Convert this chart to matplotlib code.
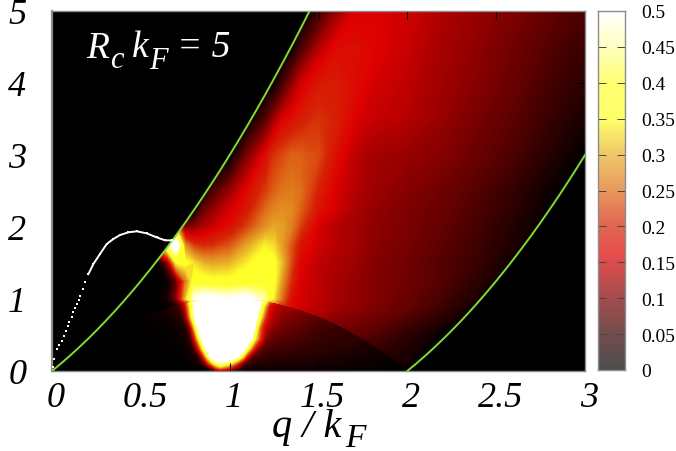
import numpy as np
import matplotlib
matplotlib.use("Agg")
import matplotlib.pyplot as plt
from matplotlib.colors import LinearSegmentedColormap
from matplotlib.patches import Polygon
from matplotlib.transforms import ScaledTranslation

# Boundaries
upper_q = [0, .05, .1, .15, .2, .25, .3, .35, .4, .45, .5, .55, .6, .65, .7, .75, .8, .85, .9, .95, 1, 1.05, 1.1, 1.15, 1.2, 1.25, 1.3, 1.35, 1.4, 1.45]
upper_w = [0, .1025, .21, .3225, .44, .5625, .69, .8225, .96, 1.1025, 1.25, 1.4025, 1.56, 1.7225, 1.89, 2.0625, 2.24, 2.4225, 2.61, 2.8025, 3, 3.2025, 3.41, 3.6225, 3.84, 4.0625, 4.29, 4.5225, 4.76, 5.0025]
lower_q = [2, 2.05, 2.1, 2.15, 2.2, 2.25, 2.3, 2.35, 2.4, 2.45, 2.5, 2.55, 2.6, 2.65, 2.7, 2.75, 2.8, 2.85, 2.9, 2.95, 3]
lower_w = [0, .1025, .21, .3225, .44, .5625, .69, .8225, .96, 1.1025, 1.25, 1.4025, 1.56, 1.7225, 1.89, 2.0625, 2.24, 2.4225, 2.61, 2.8025, 3]
dome_q = [0, .05, .1, .15, .2, .25, .3, .35, .4, .45, .5, .55, .6, .65, .7, .75, .8, .85, .9, .95, 1, 1.05, 1.1, 1.15, 1.2, 1.25, 1.3, 1.35, 1.4, 1.45, 1.5, 1.55, 1.6, 1.65, 1.7, 1.75, 1.8, 1.85, 1.9, 1.95, 2]
dome_w = [0, .0975, .19, .2775, .36, .4375, .51, .5775, .64, .6975, .75, .7975, .84, .8775, .91, .9375, .96, .9775, .99, .9975, 1, .9975, .99, .9775, .96, .9375, .91, .8775, .84, .7975, .75, .6975, .64, .5775, .51, .4375, .36, .2775, .19, .0975, 0]

# White pole curve
pole_q = [.007, .013, .026, .04, .054, .067, .079, .09, .098, .11, .12, .13, .139, .15, .158, .173, .186, .205, .233, .27, .308, .345, .383, .43, .477, .533, .589, .636, .674]
pole_w = [.05, .167, .306, .36, .42, .49, .56, .62, .676, .75, .815, .87, .93, .99, 1.046, 1.139, 1.23, 1.347, 1.486, 1.625, 1.764, 1.833, 1.889, 1.926, 1.94, 1.912, 1.856, 1.815, 1.815]

# Continuum above the dome
cont_q = [.5, .6, .65, .7, .75, .8, .85, .9, 1.0, 1.1, 1.2, 1.25, 1.3, 1.35, 1.4, 1.5, 1.6, 1.7, 1.8, 2.0, 2.2, 2.4, 2.6, 2.8, 3.0]
cont_w = [0, .5, .85, 1, 1.25, 1.5, 1.75, 2, 2.25, 2.5, 3, 3.5, 4, 4.5, 5]
cont_s = [
 [0,0,0,0,0,0,0,0,0,0,0,0,0,0,.02,.02,.02,.02,.03,.01,0,0,0,0,0],
 [0,0,0,0,0,0,0,0,0,0,0,0,0,.1,.1,.09,.085,.08,.07,.04,.004,0,0,0,0],
 [0,0,0,0,0,0,0,0,0,0,0,.2,.19,.165,.15,.135,.12,.11,.1,.08,.05,.005,0,0,0],
 [0,.005,.02,.1,.3,.5,.52,.52,.5,.52,.45,.33,.24,.17,.155,.14,.125,.115,.105,.085,.06,.02,0,0,0],
 [0,0,.01,.08,.25,.37,.37,.36,.36,.37,.38,.36,.27,.2,.155,.14,.125,.115,.105,.09,.07,.04,0,0,0],
 [0,0,.1,.35,.36,.33,.3,.29,.3,.34,.37,.36,.3,.22,.165,.14,.13,.12,.105,.09,.07,.05,.01,0,0],
 [0,.3,.45,.55,.27,.21,.2,.205,.23,.29,.34,.325,.28,.23,.18,.15,.135,.125,.11,.095,.075,.055,.025,0,0],
 [0,.1,.2,.3,.09,.11,.13,.145,.175,.22,.275,.295,.285,.26,.215,.155,.135,.125,.11,.1,.08,.06,.03,0,0],
 [0,0,0,0,0,0,.08,.11,.15,.185,.245,.265,.275,.27,.24,.18,.15,.13,.115,.1,.085,.065,.04,.005,0],
 [0,0,0,0,0,0,0,.06,.115,.17,.215,.24,.255,.26,.25,.195,.155,.135,.12,.105,.09,.07,.045,.01,0],
 [0,0,0,0,0,0,0,0,0,.1,.17,.21,.225,.24,.24,.225,.175,.14,.125,.115,.105,.085,.065,.035,0],
 [0,0,0,0,0,0,0,0,0,0,.07,.12,.16,.175,.19,.21,.195,.16,.145,.135,.115,.095,.075,.05,.02],
 [0,0,0,0,0,0,0,0,0,0,0,.01,.06,.11,.15,.185,.19,.175,.155,.14,.12,.105,.085,.06,.04],
 [0,0,0,0,0,0,0,0,0,0,0,0,0,.01,.06,.13,.17,.175,.165,.145,.125,.11,.09,.07,.05],
 [0,0,0,0,0,0,0,0,0,0,0,0,0,0,0,.05,.115,.155,.16,.15,.13,.115,.1,.08,.065],
]

# Region under the dome
bowl_q = [0, .4, .55, .65, .7, .725, .75, .775, .8, .825, .85, .875, .9, .925, .95, 1.0, 1.05, 1.075, 1.1, 1.125, 1.15, 1.175, 1.2, 1.225, 1.25, 1.3, 1.4, 1.5, 1.7, 2.0]
bowl_w = [0, .05, .1, .2, .3, .45, .6, .75, .9, 1.0]
bowl_s = [
 [0,0,0,0,0,0,0,0,0,0,.005,.01,.03,.07,.1,.09,.03,.02,.015,.01,.01,.01,.01,.01,.01,.01,.01,.01,.005,0],
 [0,0,0,0,0,0,0,0,.002,.005,.01,.03,.12,.25,.3,.22,.08,.04,.025,.02,.015,.015,.015,.015,.015,.015,.015,.015,.01,0],
 [0,0,0,0,0,0,.002,.004,.007,.015,.05,.16,.28,.38,.42,.35,.18,.08,.05,.035,.03,.03,.03,.03,.025,.025,.025,.02,.015,0],
 [0,0,0,0,.002,.004,.006,.01,.02,.05,.17,.36,.55,.7,.7,.7,.45,.33,.165,.08,.06,.05,.045,.04,.04,.04,.035,.03,.02,0],
 [0,0,0,.002,.004,.006,.01,.02,.05,.165,.35,.52,.6,.7,.7,.7,.7,.55,.37,.23,.12,.08,.065,.06,.055,.055,.045,.04,.03,0],
 [0,0,.002,.005,.008,.01,.015,.04,.165,.35,.54,.65,.7,.7,.7,.7,.7,.7,.6,.47,.31,.2,.11,.09,.075,.07,.06,.05,.04,0],
 [0,0,.004,.008,.012,.015,.03,.1,.3,.5,.62,.7,.7,.7,.7,.7,.7,.7,.7,.65,.38,.23,.15,.12,.105,.09,.075,.06,.04,0],
 [0,0,.006,.015,.025,.04,.09,.275,.46,.58,.7,.7,.7,.7,.7,.7,.7,.7,.7,.7,.5,.35,.22,.15,.13,.105,.09,.075,.05,0],
 [0,0,.01,.025,.05,.08,.165,.33,.47,.6,.7,.7,.7,.7,.7,.7,.7,.7,.7,.7,.55,.43,.3,.175,.145,.125,.115,.09,.06,0],
 [0,0,.015,.03,.06,.1,.23,.42,.53,.65,.7,.7,.7,.7,.7,.7,.7,.7,.7,.7,.6,.52,.42,.3,.2,.14,.12,.1,.07,0],
]

x_ticks = [0, .5, 1, 1.5, 2, 2.5, 3]
x_labels = ["0", "0.5", "1", "1.5", "2", "2.5", "3"]
y_ticks = [0, 1, 2, 3, 4, 5]
bar_ticks = [0, .05, .1, .15, .2, .25, .3, .35, .4, .45, .5]
bar_labels = ["0", "0.05", "0.1", "0.15", "0.2", "0.25", "0.3", "0.35", "0.4", "0.45", "0.5"]

cmap_nodes = [(0, (0, 0, 0)), (.05, (55, 0, 0)), (.1, (125, 0, 0)), (.16, (222, 0, 0)), (.2, (213, 35, 5)),
              (.25, (222, 110, 25)), (.3, (232, 175, 40)), (.35, (255, 255, 40)), (.4, (255, 255, 50)),
              (.45, (255, 255, 165)), (.5, (255, 255, 255))]
cmap = LinearSegmentedColormap.from_list(
    "heat", [(v / .5, tuple(c / 255 for c in col)) for v, col in cmap_nodes], N=512)
cmap.set_over("white")

SERIF = "Liberation Serif"
GRAY = "#8c8c8c"
GREEN = "#7fdc32"

fig = plt.figure(figsize=(6.76, 4.52), dpi=100, facecolor="white")
ax = fig.add_axes([52 / 676, 1 - 372 / 452, 533 / 676, 360 / 452], facecolor="black")
levels = np.linspace(0, .5, 201)

cont_verts = (list(zip(upper_q, upper_w)) + [(3, 5.1), (3.01, 5.1), (3.01, 3)] + list(zip(lower_q[::-1], lower_w[::-1]))
              + list(zip(dome_q[::-1], dome_w[::-1])))
bowl_verts = list(zip(dome_q, dome_w))

for q, w, s, verts in ((cont_q, cont_w, cont_s, cont_verts), (bowl_q, bowl_w, bowl_s, bowl_verts)):
    cs = ax.contourf(q, w, np.array(s), levels=levels, cmap=cmap, extend="max", antialiased=False, zorder=1)
    cs.set_clip_path(Polygon(verts, closed=True, transform=ax.transData))

ax.plot(upper_q, upper_w, color=GREEN, lw=1.4, zorder=3)
ax.plot(lower_q, lower_w, color=GREEN, lw=1.4, zorder=3)
ax.plot(pole_q[17:], pole_w[17:], color="white", lw=1.4, zorder=4)
ax.plot(pole_q, pole_w, ls="none", marker="s", ms=1.8, color="white", mew=0, zorder=4)

ax.set_xlim(0, 3)
ax.set_ylim(0, 5)
ax.set_xticks(x_ticks, x_labels, fontfamily=SERIF, fontstyle="italic", fontsize=26)
ax.set_yticks(y_ticks, [str(t) for t in y_ticks], fontfamily=SERIF, fontstyle="italic", fontsize=26)
ax.tick_params(axis="both", direction="in", length=6, width=.7, color="black", top=True, right=True)
ax.tick_params(axis="x", pad=7)
ax.tick_params(axis="y", pad=25)
shift = ScaledTranslation(4 / 100, 0, fig.dpi_scale_trans)
for lab in ax.get_xticklabels():
    lab.set_transform(lab.get_transform() + shift)
for lab in ax.get_yticklabels():
    lab.set_ha("center")
for sp in ax.spines.values():
    sp.set_color(GRAY)
    sp.set_linewidth(1.0)
ax.spines["left"].set_linewidth(1.6)

def ptext(x, y, s, size, color="black"):
    fig.text(x / 676, 1 - y / 452, s, fontsize=size, color=color, family=SERIF, style="italic", ha="left", va="baseline")

# Annotation
ptext(86, 58, "R", 27, "white")
ptext(110, 68, "c", 22, "white")
ptext(132, 57, "k", 27, "white")
ptext(149, 69, "F", 22, "white")
ptext(177, 57, "= 5", 27, "white")
# Axis title
ptext(272, 437, "q / k", 29)
ptext(345, 447, "F", 24)

# Colour bar
cax = fig.add_axes([598 / 676, 1 - 371 / 452, 27 / 676, 359 / 452], facecolor="white")
cax.imshow(np.linspace(0, .5, 256)[:, None], origin="lower", aspect="auto", cmap=cmap,
           vmin=0, vmax=.5, alpha=.7, extent=[0, 1, 0, .5])
cax.set_xticks([])
cax.set_yticks(bar_ticks, bar_labels, fontfamily=SERIF, fontsize=14)
cax.tick_params(axis="y", direction="in", length=6, width=.7, color="#444444", left=True, right=True, pad=12,
                labelleft=False, labelright=True)
for sp in cax.spines.values():
    sp.set_color(GRAY)
    sp.set_linewidth(1.0)

fig.savefig("out.png", dpi=100)
